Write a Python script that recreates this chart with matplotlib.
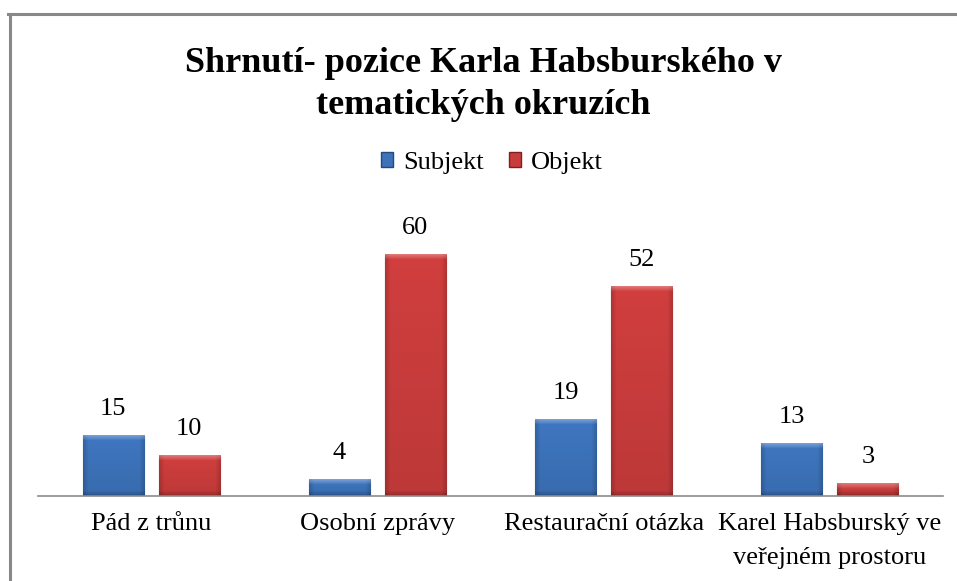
import matplotlib
matplotlib.use("Agg")
import matplotlib.pyplot as plt
import numpy as np
from matplotlib.lines import Line2D
from matplotlib.patches import Patch
from matplotlib.colors import to_rgb

categories = ["Pád z trůnu", "Osobní zprávy", "Restaurační otázka",
              "Karel Habsburský ve\nveřejném prostoru"]
subjekt = [15, 4, 19, 13]
objekt = [10, 60, 52, 3]

plt.rcParams['font.family'] = ['Liberation Serif', 'DejaVu Serif']

fig = plt.figure(figsize=(9.57, 5.81), dpi=100)
ax = fig.add_axes([38 / 957, 85 / 581, 905 / 957, 281.4 / 581])

x = np.arange(len(categories))
w = 0.27
off = 0.168
blue, red = "#3c72b9", "#c93c3c"
blue_dark, red_dark = "#24497f", "#7f2020"
b1 = ax.bar(x - off, subjekt, w, color=blue, edgecolor=blue_dark, linewidth=0.8, zorder=3)
b2 = ax.bar(x + off, objekt, w, color=red, edgecolor=red_dark, linewidth=0.8, zorder=3)

# bevel look: lighter top band, darker sides and bottom
px_x = 905 / 4.0
px_y = 281.4 / 70.0


def bevel(rect, base):
    c = np.array(to_rgb(base))
    wp = max(int(round(rect.get_width() * px_x)), 2)
    hp = max(int(round(rect.get_height() * px_y)), 2)
    yy, xx = np.mgrid[0:hp, 0:wp].astype(float)
    b = 5.0
    # distance-based factors (soft edges)
    fl = np.clip(xx / b, 0, 1)
    fr = np.clip((wp - 1 - xx) / b, 0, 1)
    ft = np.clip(yy / min(b, hp / 2), 0, 1)
    fb = np.clip((hp - 1 - yy) / min(b, hp / 2), 0, 1)
    fac = np.ones((hp, wp))
    fac = fac * (0.84 + 0.16 * np.minimum(fl, fr))
    fac = fac * (0.78 + 0.22 * fb)
    light = (1 - ft) * 0.28
    img = c[None, None, :] * fac[:, :, None]
    img = img + (1 - img) * light[:, :, None]
    shade = np.linspace(1.04, 0.94, hp)[:, None, None]
    img = np.clip(img * shade, 0, 1)
    x0 = rect.get_x()
    ax.imshow(img, extent=(x0, x0 + rect.get_width(), 0, rect.get_height()),
              aspect="auto", zorder=3.5, interpolation="bilinear", origin="upper")


for bars, base in ((b1, blue), (b2, red)):
    for r in bars:
        bevel(r, base)

for bars, vals in ((b1, subjekt), (b2, objekt)):
    for r, v in zip(bars, vals):
        ax.text(r.get_x() + r.get_width() / 2, v + 6.6, str(v), ha="center",
                va="center", fontsize=19)

ax.set_xlim(-0.5, 3.5)
ax.set_ylim(0, 70)
ax.set_yticks([])
ax.set_xticks(x)
ax.set_xticklabels(categories, fontsize=19, linespacing=1.72)
ax.tick_params(axis="x", length=0, pad=12)
for s in ["top", "right", "left"]:
    ax.spines[s].set_visible(False)
ax.spines["bottom"].set_color("#8c8c8c")
ax.spines["bottom"].set_linewidth(1.2)
ax.spines["bottom"].set_zorder(5)

fig.text(0.505, 1 - 84.5 / 581, "Shrnutí- pozice Karla Habsburského v\ntematických okruzích",
         ha="center", va="center", fontsize=26, fontweight="bold", linespacing=1.35)

handles = [Patch(facecolor=blue, edgecolor=blue_dark), Patch(facecolor=red, edgecolor=red_dark)]
fig.legend(handles, ["Subjekt", "Objekt"], loc="center", bbox_to_anchor=(492 / 957, 1 - 163 / 581),
           ncol=2, frameon=False, fontsize=19, handlelength=0.46, handleheight=0.46,
           handletextpad=0.38, columnspacing=0.95, borderpad=0.2)

fig.add_artist(Line2D([9.5 / 957, 9.5 / 957], [0, 1 - 14 / 581], color="#888888",
                      linewidth=2.2, transform=fig.transFigure))
fig.add_artist(Line2D([8 / 957, 1], [1 - 14 / 581, 1 - 14 / 581], color="#888888",
                      linewidth=2.2, transform=fig.transFigure))

fig.savefig("out.png", dpi=100)
